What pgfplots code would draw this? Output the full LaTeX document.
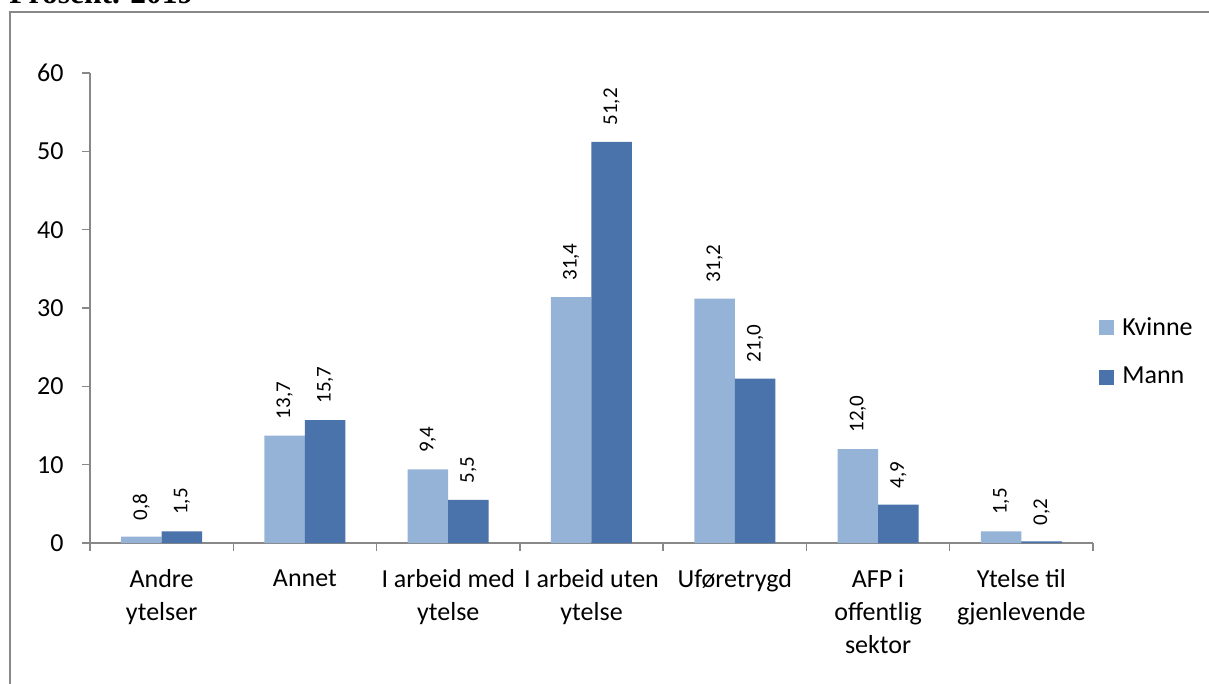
\documentclass[border=0pt]{standalone}
\usepackage{fontspec}
\setmainfont{Carlito}
\newfontfamily\titlefont{Liberation Serif}
\usepackage{pgfplots}
\pgfplotsset{compat=1.18}
\usepackage{pgfplotstable}

\definecolor{kvinne}{HTML}{95B3D7}
\definecolor{mann}{HTML}{4A72AB}
\definecolor{axisgray}{HTML}{888888}

% values in percent, 2019
\pgfplotstableread{
x kvinne mann
0 0.8  1.5
1 13.7 15.7
2 9.4  5.5
3 31.4 51.2
4 31.2 21.0
5 12.0 4.9
6 1.5  0.2
}\datatable

\begin{document}
\begin{tikzpicture}
% page is 1209x684 px at 0.5pt per px
\useasboundingbox (0,0) rectangle (604.5pt,-342pt);
\draw[axisgray, line width=0.75pt] (5pt,-360pt) -- (5pt,-6pt) -- (620pt,-6pt);
\node[anchor=base west, inner sep=0pt, font=\titlefont\bfseries\fontsize{15.75}{18}\selectfont]
  at (4.5pt,-2pt) {Prosent. 2019};

\begin{axis}[
    at={(45pt,-271.5pt)}, anchor=south west,
    scale only axis,
    width=501.5pt, height=235pt,
    ybar=0pt, bar width=20.25pt,
    xmin=-0.5, xmax=6.5,
    ymin=0, ymax=60,
    ytick={0,10,...,60},
    xtick={0,...,6},
    xticklabels={Andre\\ytelser, Annet, I arbeid med\\ytelse, I arbeid uten\\ytelse,
                 Uføretrygd, AFP i\\offentlig\\sektor, Ytelse til\\gjenlevende},
    minor xtick={-0.5,0.5,...,6.5},
    tick align=outside,
    major tick length=4pt, minor tick length=4pt,
    axis x line*=bottom, axis y line*=left,
    axis line style={axisgray, line width=0.75pt},
    every tick/.style={axisgray, line width=0.75pt},
    every major x tick/.append style={draw=none},
    /pgf/number format/assume math mode=true,
    ticklabel style={font=\fontsize{13}{16.5}\selectfont},
    xticklabel style={align=center, anchor=north, inner sep=0pt, yshift=-9pt},
    yticklabel style={anchor=east, inner sep=0pt, xshift=-9pt},
    clip=false,
    nodes near coords={\pgfmathprintnumber[fixed,fixed zerofill,precision=1,use comma,assume math mode=true]{\pgfplotspointmeta}},
    nodes near coords style={yshift=8pt, rotate=90, anchor=west, inner sep=0pt,
                             font=\fontsize{10.5}{12}\selectfont, text=black},
    legend style={at={(1.0,0.406)}, anchor=west, draw=none, fill=none,
                  font=\fontsize{13}{16}\selectfont, row sep=14.5pt,
                  nodes={inner sep=0pt, anchor=west}},
    legend cell align=left,
    legend image code/.code={\fill[#1] (2.5pt,-3.75pt) rectangle (10pt,3.75pt);},
]
\addplot[fill=kvinne, draw=none] table[x=x, y=kvinne] {\datatable};
\addplot[fill=mann, draw=none] table[x=x, y=mann] {\datatable};
\legend{\hspace{4pt}Kvinne, \hspace{4pt}Mann}
\end{axis}
\end{tikzpicture}
\end{document}
